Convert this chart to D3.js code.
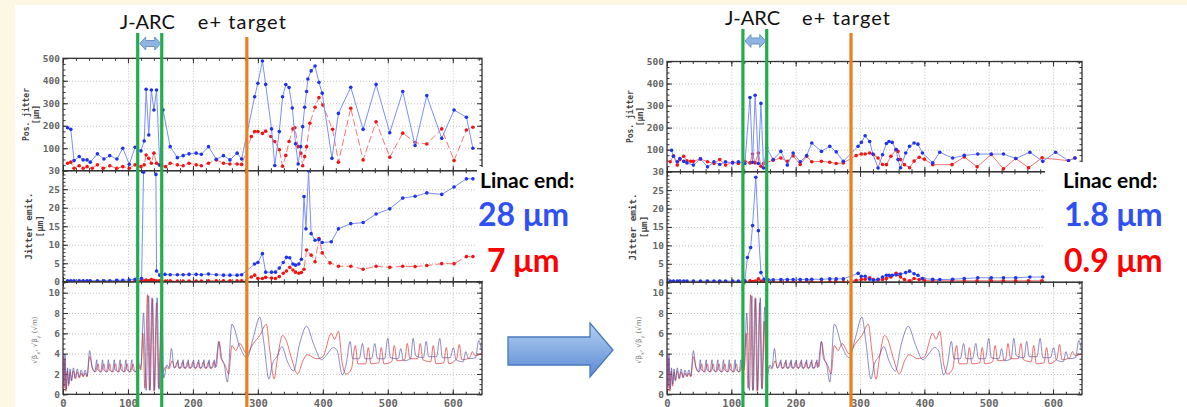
<!DOCTYPE html>
<html>
<head>
<meta charset="utf-8">
<script src="https://cdnjs.cloudflare.com/ajax/libs/d3/7.8.5/d3.min.js"></script>
<style>
body { margin: 0; background: #fcf8e3; }
svg { display: block; }
.grid line { stroke: #c4c4c4; stroke-dasharray: 1,2; }
.grid path, .ax path { display: none; }
.ax line { stroke: #333; }
.ax text { font-family: "DejaVu Sans Mono", monospace; font-weight: bold; fill: #666; }
</style>
</head>
<body>
<svg id="chart" width="1187" height="407"></svg>
<script>
// ---- data: [s (m), value] ----
var leftPosBlue = [[7,191],[12,184],[17,45],[25,63],[31,48],[37,48],[42,38],[53,75],[63,52],[72,67],[83,52],[92,100],[102,29],[111,104],[120,88],[125,132],[128,362],[132,159],[136,359],[140,270],[144,359],[149,25],[154,270],[165,107],[176,58],[185,67],[194,75],[205,78],[213,73],[224,107],[236,51],[247,67],[257,48],[268,78],[275,52],[295,329],[300,389],[307,488],[312,384],[321,186],[326,23],[333,174],[338,329],[343,383],[348,370],[353,279],[358,120],[362,30],[366,107],[369,196],[372,282],[375,352],[377,408],[382,444],[388,466],[394,393],[399,345],[414,55],[424,255],[443,371],[462,184],[482,384],[503,169],[523,352],[542,112],[560,334],[583,144],[602,270],[621,238],[631,100]];
var leftPosRed = [[7,33],[12,38],[17,11],[25,22],[31,11],[37,18],[45,11],[53,26],[62,11],[72,22],[83,11],[92,18],[102,11],[111,26],[120,18],[125,26],[128,70],[132,55],[136,33],[140,78],[144,33],[148,26],[152,22],[158,18],[165,33],[176,26],[185,22],[194,33],[205,26],[213,22],[224,33],[236,48],[247,33],[257,30],[268,30],[275,28],[290,152],[295,174],[300,174],[307,166],[312,176],[320,152],[326,130],[333,93],[338,20],[343,68],[348,130],[354,186],[357,191],[362,107],[366,78],[369,22],[372,63],[375,107],[380,211],[388,282],[394,325],[400,292],[415,184],[424,38],[443,278],[462,48],[482,218],[503,60],[523,167],[542,125],[560,119],[583,186],[602,45],[621,181],[631,193]];
var leftEmitBlue = [[7,0.3],[12,0.3],[17,0.3],[25,0.3],[31,0.3],[37,0.3],[42,0.3],[53,0.3],[63,0.3],[72,0.3],[83,0.4],[92,0.4],[102,0.5],[111,0.7],[121,0.9],[124,29.6],[128,45],[132,45],[136,45],[140,45],[143,29],[144,2.9],[149,1.8],[157,2.0],[165,1.9],[176,1.9],[185,1.9],[194,2.0],[205,2.0],[213,1.9],[224,2.1],[236,1.9],[247,1.8],[257,1.8],[268,1.8],[275,1.9],[295,4.8],[300,5.2],[307,7.6],[312,2.6],[321,2.6],[327,2.6],[333,3.7],[339,5.2],[344,6.6],[349,6.5],[354,4.8],[358,4.5],[363,4.8],[367,6.1],[371,23],[374,14.3],[378,30],[382,13],[388,11.2],[394,11.4],[399,10.6],[413,10.8],[424,14.3],[443,15.7],[462,16],[482,18.3],[503,19.7],[523,22.6],[542,23.1],[560,24],[583,23.6],[602,25.6],[621,27.8],[631,27.8]];
var leftEmitRed = [[7,0.1],[12,0.1],[17,0.1],[25,0.1],[31,0.1],[37,0.1],[42,0.1],[53,0.1],[63,0.1],[72,0.1],[83,0.1],[92,0.1],[102,0.1],[111,0.2],[120,0.2],[125,0.3],[128,0.5],[132,0.3],[136,0.6],[140,0.4],[144,0.3],[148,0.3],[152,0.3],[158,0.2],[165,0.3],[176,0.2],[185,0.2],[194,0.2],[205,0.2],[213,0.2],[224,0.3],[236,0.3],[247,0.3],[257,0.3],[268,0.3],[275,0.3],[290,1.3],[295,1.8],[300,0.9],[307,0.9],[312,1.2],[321,1.0],[327,0.9],[333,1.4],[339,2.3],[344,2.9],[349,3.9],[354,3.2],[358,2.6],[363,2.3],[367,2.5],[371,3.4],[375,8.6],[382,7.2],[388,5.4],[394,11.7],[399,7.8],[411,5.1],[424,4.2],[443,4.2],[462,3.4],[482,4.2],[503,3.9],[523,4.2],[542,4.1],[560,4.4],[583,4.9],[602,4.9],[621,6.8],[631,6.8]];

var rightPosBlue = [[7,97],[10,70],[16,45],[20,60],[26,47],[31,40],[41,30],[52,58],[63,22],[73,45],[82,33],[91,45],[102,40],[111,45],[121,37],[129,337],[133,43],[137,347],[142,37],[146,310],[150,17],[155,107],[165,55],[177,92],[187,30],[196,85],[207,45],[217,73],[225,130],[240,92],[253,115],[263,90],[274,47],[297,115],[302,133],[308,163],[315,137],[320,80],[328,17],[335,77],[341,128],[345,137],[350,133],[356,100],[359,55],[363,18],[371,85],[377,115],[384,130],[390,125],[397,85],[413,40],[424,88],[444,62],[462,74],[483,80],[504,80],[523,80],[542,60],[564,88],[584,47],[604,88],[624,50],[634,62]];
var rightPosRed = [[5,45],[10,72],[16,30],[20,55],[26,70],[31,50],[37,47],[41,47],[52,58],[63,45],[73,37],[82,55],[91,30],[102,43],[111,37],[121,47],[129,40],[133,80],[137,40],[142,85],[146,25],[150,37],[165,52],[177,62],[187,47],[196,72],[207,33],[217,70],[225,45],[240,47],[253,43],[263,37],[274,40],[294,73],[302,80],[308,80],[315,85],[321,77],[328,62],[335,33],[341,32],[348,70],[356,100],[359,92],[363,55],[369,32],[377,18],[384,48],[392,65],[400,57],[413,32],[443,32],[462,67],[482,22],[504,78],[523,13],[542,60],[562,18],[583,63],[624,50],[634,62]];
var rightEmitBlue = [[5,0.3],[10,0.3],[16,0.3],[20,0.3],[26,0.3],[31,0.3],[41,0.3],[52,0.3],[63,0.3],[73,0.3],[82,0.3],[91,0.3],[102,0.3],[111,0.3],[121,0.4],[125,6.7],[130,9.4],[133,15.4],[138,28.5],[142,14],[146,2.6],[151,0.8],[157,0.65],[165,0.65],[177,0.7],[187,0.7],[196,0.7],[207,0.7],[217,0.7],[225,0.8],[240,0.8],[253,0.9],[263,0.9],[274,0.9],[297,2.4],[302,1.6],[308,1.6],[315,0.8],[321,0.5],[328,0.8],[335,1.4],[341,1.9],[345,1.9],[350,1.9],[356,2.0],[363,2.2],[371,2.6],[377,3.0],[384,2.3],[390,1.9],[397,1.0],[413,0.8],[424,0.7],[444,0.8],[462,1.0],[483,1.2],[504,1.2],[523,1.2],[542,1.2],[564,1.4],[584,1.4]];
var rightEmitRed = [[5,0.1],[10,0.1],[16,0.1],[20,0.1],[26,0.1],[31,0.1],[41,0.1],[52,0.1],[63,0.1],[73,0.1],[82,0.1],[91,0.1],[102,0.1],[111,0.1],[121,0.1],[129,0.4],[133,0.2],[137,0.3],[142,0.9],[146,0.3],[150,0.2],[165,0.1],[177,0.1],[187,0.1],[196,0.1],[207,0.1],[217,0.1],[225,0.1],[240,0.1],[253,0.1],[263,0.1],[274,0.1],[294,0.5],[302,0.7],[308,0.8],[315,1.2],[321,0.7],[328,0.6],[335,0.7],[341,1.0],[348,1.4],[356,2.4],[359,2.1],[363,1.4],[369,0.7],[377,0.35],[384,1.0],[392,0.7],[400,0.5],[413,0.4],[443,0.4],[462,0.4],[482,0.4],[504,0.4],[523,0.4],[542,0.4],[562,0.4],[583,0.4]];

// sqrt(beta) along the linac, same lattice in both panels
var betaX = [[0,4.1],[1.5,0.8],[3,3.9],[5,0.5],[7,2.6],[9,1.0],[11,2.5],[13,1.3],[16,2.6],[19,1.6],[22,2.5],[25,1.7],[28,2.4],[31,1.8],[34,2.4],[37,1.8],[41,4.3],[45,2.6],[49,2.2],[52,3.4],[53,2.5],[58,2.2],[61,3.4],[62,2.5],[67,2.2],[70,3.4],[71,2.5],[76,2.2],[79,3.4],[80,2.5],[85,2.2],[88,3.4],[89,2.5],[94,2.2],[97,3.4],[98,2.5],[103,2.2],[106,3.4],[107,2.5],[112,2.2],[115,3.4],[116,2.5],[120,2.8],[124,8.0],[128,0.4],[132,9.7],[134,0.4],[138,9.4],[141,0.4],[145,9.5],[148,0.5],[152,8.6],[155,1.6],[160,2.9],[163,2.6],[167,4.5],[171,2.6],[175,2.8],[177,3.4],[178,2.6],[183,2.7],[185,3.4],[186,2.6],[191,2.7],[193,3.4],[194,2.6],[199,2.7],[201,3.4],[202,2.6],[207,2.7],[209,3.4],[210,2.6],[215,2.7],[217,3.4],[218,2.6],[223,2.7],[225,3.4],[226,2.6],[231,2.7],[233,3.4],[234,2.6],[240,5.2],[243,3.6],[248,3.0],[253,1.2],[260,6.9],[272,4.7],[283,3.6],[293,5.6],[303,7.6],[309,5.2],[317,1.5],[322,2.9],[330,3.8],[337,4.7],[345,3.3],[355,2.3],[364,4.9],[375,6.7],[386,4.9],[398,3.4],[406,3.9],[416,4.6],[422,4.3],[430,1.9],[436,3.0],[442,5.2],[446,3.5],[456,3.5],[461,5.0],[465,3.5],[475,3.5],[480,5.0],[484,3.5],[495,3.5],[500,5.5],[504,3.6],[516,3.5],[520,4.5],[524,3.3],[535,3.5],[539,5.5],[543,3.8],[555,3.6],[559,5.2],[563,3.7],[575,3.7],[580,5.5],[584,3.6],[596,3.6],[601,4.6],[605,3.4],[616,3.2],[620,4.2],[624,3.5],[635,3.6],[640,5.3],[645,4.0]];
var betaY = [[0,4.0],[1.5,0.6],[3,3.5],[4.5,0.3],[6.5,2.3],[8.5,0.8],[11,2.2],[13,1.4],[16,2.3],[19,1.5],[22,2.2],[25,1.6],[28,2.1],[31,1.7],[34,2.1],[37,1.7],[41,3.7],[45,2.7],[50,2.2],[54,3.0],[56,2.3],[59,2.2],[63,3.0],[65,2.3],[68,2.2],[72,3.0],[74,2.3],[77,2.2],[81,3.0],[83,2.3],[86,2.2],[90,3.0],[92,2.3],[95,2.2],[99,3.0],[101,2.3],[104,2.2],[108,3.0],[110,2.3],[113,2.2],[117,3.0],[120,2.4],[123,6.0],[126,0.6],[130,9.8],[133,0.4],[137,9.5],[140,0.3],[144,9.0],[147,0.6],[151,7.2],[154,2.2],[158,2.7],[163,2.5],[168,3.3],[172,2.6],[176,3.2],[180,2.5],[184,3.2],[188,2.5],[192,3.2],[196,2.5],[200,3.2],[204,2.5],[208,3.2],[212,2.5],[216,3.2],[220,2.5],[224,3.2],[228,2.5],[232,3.2],[236,2.7],[240,5.2],[245,3.4],[250,2.8],[255,2.0],[260,4.8],[266,4.3],[272,5.0],[283,4.0],[293,5.0],[303,5.8],[313,6.9],[318,4.5],[325,1.5],[330,3.5],[338,5.8],[343,5.4],[352,3.5],[361,2.0],[370,3.4],[376,3.9],[390,3.5],[400,3.7],[413,6.0],[418,5.4],[424,6.2],[430,3.0],[436,2.0],[444,2.5],[450,4.8],[454,3.0],[466,3.0],[470,4.6],[474,3.0],[486,3.1],[490,4.6],[494,3.0],[506,3.2],[510,4.8],[514,3.3],[526,3.4],[530,5.0],[534,3.5],[546,3.5],[550,5.0],[554,3.4],[566,3.2],[570,4.8],[574,3.0],[586,3.1],[590,4.6],[594,3.0],[606,3.5],[610,4.9],[614,3.4],[626,3.6],[630,4.2],[634,3.8],[645,4.0]];

// landmarks [m]
var leftJarc = [115, 152], leftTarget = 283;
var rightJarc = [118, 155], rightTarget = 286;

// ticks
var xTicks = [0,100,200,300,400,500,600];
var xMinor = d3.range(0, 645, 20);
var posTicks = [100,200,300,400,500];
var emitTicks = [0,5,10,15,20,25,30];
var betaTicks = [0,2,4,6,8,10];
var results = [["28 μm", "7 μm"], ["1.8 μm", "0.9 μm"]];

var svg = d3.select("#chart");
svg.append("rect").attr("x", 15).attr("y", 5)
    .attr("width", 1172).attr("height", 402).attr("fill", "white");

var defs = svg.append("defs");
var grad = defs.append("linearGradient").attr("id", "bigArrow")
    .attr("x1", 0).attr("y1", 0).attr("x2", 0).attr("y2", 1);
grad.append("stop").attr("offset", "0%").attr("stop-color", "#b4d0f2");
grad.append("stop").attr("offset", "100%").attr("stop-color", "#5a8ad3");

var panels = [
    {left: 63, right: 482, rows: [58.3, 170.7, 281.8, 394.3],
     pos: [leftPosBlue, leftPosRed], emit: [leftEmitBlue, leftEmitRed],
     jarc: leftJarc, target: leftTarget, redDash: "7,3",
     textY: 29, greenTop: 33, orangeTop: 37, arrowY: 43.5,
     labelX: 480, boxX: 477, boxY: 167, res: results[0], resX: [478, 487]},
    {left: 667, right: 1082, rows: [61.5, 171.7, 282.2, 394.3],
     pos: [rightPosBlue, rightPosRed], emit: [rightEmitBlue, rightEmitRed],
     jarc: rightJarc, target: rightTarget, redDash: null,
     textY: 25, greenTop: 29, orangeTop: 33, arrowY: 41,
     labelX: 1063, boxX: 1045, boxY: 162, res: results[1], resX: [1064, 1064]}
];

var clipId = 0;

function subplot(g, x, y, top, bottom, majorY, minorY, yFormat, xLabels) {
    var l = x.range()[0], r = x.range()[1];
    var w = r - l, h = bottom - top;

    // dotted grid
    g.append("g").attr("class", "grid").attr("transform", "translate(0," + bottom + ")")
        .call(d3.axisBottom(x).tickValues(xTicks.slice(1)).tickSize(-h).tickFormat(""));
    g.append("g").attr("class", "grid").attr("transform", "translate(" + l + ",0)")
        .call(d3.axisLeft(y).tickValues(majorY).tickSize(-w).tickFormat(""));

    // ticks pointing inwards on all four sides
    var axes = [
        [d3.axisBottom(x), "translate(0," + bottom + ")", xTicks, xMinor],
        [d3.axisTop(x), "translate(0," + top + ")", xTicks, xMinor],
        [d3.axisLeft(y), "translate(" + l + ",0)", majorY, minorY],
        [d3.axisRight(y), "translate(" + r + ",0)", majorY, minorY]
    ];
    axes.forEach(function(a, i) {
        var major = a[0].tickValues(a[2]).tickSizeInner(-5).tickSizeOuter(0);
        if (i == 2) major.tickFormat(yFormat).tickPadding(3);
        else if (i == 0 && xLabels) major.tickFormat(d3.format("d")).tickPadding(5);
        else major.tickFormat("");
        var ga = g.append("g").attr("class", "ax").attr("transform", a[1]).call(major);
        ga.selectAll("text").style("font-size", i == 0 ? "10.5px" : "9.5px");
        var minor = (i < 2 ? d3.axisBottom(x) : d3.axisLeft(y));
        if (i == 1) minor = d3.axisTop(x);
        if (i == 3) minor = d3.axisRight(y);
        minor.tickValues(a[3]).tickSizeInner(-2.5).tickSizeOuter(0).tickFormat("");
        g.append("g").attr("class", "ax").attr("transform", a[1]).call(minor);
    });

    g.append("rect").attr("x", l).attr("y", top).attr("width", w).attr("height", h)
        .attr("fill", "none").attr("stroke", "#333").attr("stroke-width", 1.3);

    clipId++;
    defs.append("clipPath").attr("id", "clip" + clipId)
        .append("rect").attr("x", l).attr("y", top).attr("width", w).attr("height", h);
    return g.append("g").attr("clip-path", "url(#clip" + clipId + ")");
}

function series(g, x, y, data, lineColor, dotColor, dash) {
    var line = d3.line()
        .x(function(d) { return x(d[0]); })
        .y(function(d) { return y(d[1]); });
    g.append("path").datum(data).attr("d", line)
        .attr("fill", "none").attr("stroke", lineColor).attr("stroke-width", 1)
        .attr("stroke-dasharray", dash);
    g.selectAll(null).data(data).enter().append("circle")
        .attr("cx", function(d) { return x(d[0]); })
        .attr("cy", function(d) { return y(d[1]); })
        .attr("r", 1.8).attr("fill", dotColor);
}

function yTitle(g, cx, cy, lines, size) {
    var t = g.append("text")
        .attr("transform", "translate(" + cx + "," + cy + ") rotate(-90)")
        .attr("text-anchor", "middle")
        .style("font-family", "'DejaVu Sans Mono', monospace")
        .style("font-weight", "bold").style("font-size", size + "px").attr("fill", "#444");
    t.append("tspan").attr("x", 0).attr("dy", "-0.25em").text(lines[0]);
    t.append("tspan").attr("x", 0).attr("dy", "1.2em").text(lines[1]);
    return t;
}

panels.forEach(function(p) {
    var g = svg.append("g");
    var x = d3.scaleLinear().domain([0, 645]).range([p.left, p.right]);
    var yPos = d3.scaleLinear().domain([0, 500]).range([p.rows[1], p.rows[0]]);
    var yEmit = d3.scaleLinear().domain([0, 30]).range([p.rows[2], p.rows[1]]);
    var yBeta = d3.scaleLinear().domain([0, (p.rows[3] - p.rows[2]) / 10.16]).range([p.rows[3], p.rows[2]]);

    var c1 = subplot(g, x, yPos, p.rows[0], p.rows[1], posTicks, d3.range(0, 501, 25), d3.format("d"), false);
    series(c1, x, yPos, p.pos[1], "#ff7373", "#f01515", p.redDash);
    series(c1, x, yPos, p.pos[0], "#7a8eff", "#1f33ea", null);

    var c2 = subplot(g, x, yEmit, p.rows[1], p.rows[2], emitTicks, d3.range(0, 31, 1), d3.format("d"), false);
    series(c2, x, yEmit, p.emit[1], "#ff7373", "#f01515", p.redDash);
    series(c2, x, yEmit, p.emit[0], "#7a8eff", "#1f33ea", null);

    var c3 = subplot(g, x, yBeta, p.rows[2], p.rows[3], betaTicks, d3.range(0, 11.01, 0.5), d3.format("d"), true);
    var bl = d3.line().curve(d3.curveMonotoneX)
        .x(function(d) { return x(d[0]); }).y(function(d) { return yBeta(d[1]); });
    c3.append("path").datum(betaY).attr("d", bl).attr("fill", "none")
        .attr("stroke", "#e23535").attr("stroke-opacity", 0.7).attr("stroke-width", 1);
    c3.append("path").datum(betaX).attr("d", bl).attr("fill", "none")
        .attr("stroke", "#5050a8").attr("stroke-opacity", 0.65).attr("stroke-width", 1);

    // axis titles
    yTitle(g, p.left - 32, (p.rows[0] + p.rows[1]) / 2, ["Pos. jitter", "[μm]"], 8);
    yTitle(g, p.left - 29, (p.rows[1] + p.rows[2]) / 2, ["Jitter emit.", "[μm]"], 9.3);
    var bt = g.append("text")
        .attr("transform", "translate(" + (p.left - 26) + "," + ((p.rows[2] + p.rows[3]) / 2 + 2) + ") rotate(-90)")
        .attr("text-anchor", "middle").attr("fill", "#777")
        .style("font-family", "'DejaVu Sans', sans-serif").style("font-size", "7px");
    bt.append("tspan").text("√β");
    bt.append("tspan").attr("baseline-shift", "sub").style("font-size", "5px").text("x");
    bt.append("tspan").text(", √β");
    bt.append("tspan").attr("baseline-shift", "sub").style("font-size", "5px").text("y");
    bt.append("tspan").text(" (√m)");

    // white box behind the result labels
    g.append("rect").attr("x", p.boxX).attr("y", p.boxY)
        .attr("width", 130).attr("height", p.rows[2] - 1 - p.boxY).attr("fill", "white");
    g.append("text").attr("x", p.labelX).attr("y", 188).text("Linac end:")
        .style("font-family", "Lato, sans-serif").style("font-weight", "bold")
        .style("font-size", "21px").attr("fill", "#000");
    g.append("text").attr("x", p.resX[0]).attr("y", 226).text(p.res[0])
        .style("font-family", "Lato, sans-serif").style("font-weight", "bold")
        .style("font-size", "32px").attr("fill", "#2f50f2");
    g.append("text").attr("x", p.resX[1]).attr("y", 272).text(p.res[1])
        .style("font-family", "Lato, sans-serif").style("font-weight", "bold")
        .style("font-size", "32px").attr("fill", "#ff0000");

    // J-ARC and target markers
    p.jarc.forEach(function(s) {
        g.append("line").attr("x1", x(s)).attr("x2", x(s))
            .attr("y1", p.greenTop).attr("y2", 407)
            .attr("stroke", "#21ad4b").attr("stroke-width", 3.2);
    });
    g.append("line").attr("x1", x(p.target)).attr("x2", x(p.target))
        .attr("y1", p.orangeTop).attr("y2", 407)
        .attr("stroke", "#e8801f").attr("stroke-width", 3.2);

    var a0 = x(p.jarc[0]) + 2, a1 = x(p.jarc[1]) - 1, ay = p.arrowY;
    g.append("path")
        .attr("d", "M" + a0 + "," + ay + " L" + (a0 + 6) + "," + (ay - 6.5) + " L" + (a0 + 6) + "," + (ay - 3) +
            " L" + (a1 - 6) + "," + (ay - 3) + " L" + (a1 - 6) + "," + (ay - 6.5) + " L" + a1 + "," + ay +
            " L" + (a1 - 6) + "," + (ay + 6.5) + " L" + (a1 - 6) + "," + (ay + 3) + " L" + (a0 + 6) + "," + (ay + 3) +
            " L" + (a0 + 6) + "," + (ay + 6.5) + "Z")
        .attr("fill", "#8fb4e4").attr("stroke", "#6a92c8").attr("stroke-width", 1);

    g.append("text").attr("x", x(p.jarc[0]) - 18).attr("y", p.textY).text("J-ARC")
        .style("font-family", "Lato, sans-serif").style("font-size", "20px").attr("fill", "#111");
    g.append("text").attr("x", x(p.target) - 49).attr("y", p.textY).text("e+ target")
        .style("font-family", "Lato, sans-serif").style("font-size", "20px").attr("fill", "#111")
        .attr("textLength", 88);
});

// big arrow between the two panels
svg.append("path")
    .attr("d", "M508,337 L590,337 L590,323 L613,350 L590,377 L590,365 L508,365 Z")
    .attr("fill", "url(#bigArrow)").attr("stroke", "#4a78bd").attr("stroke-width", 1.3);
</script>
</body>
</html>
